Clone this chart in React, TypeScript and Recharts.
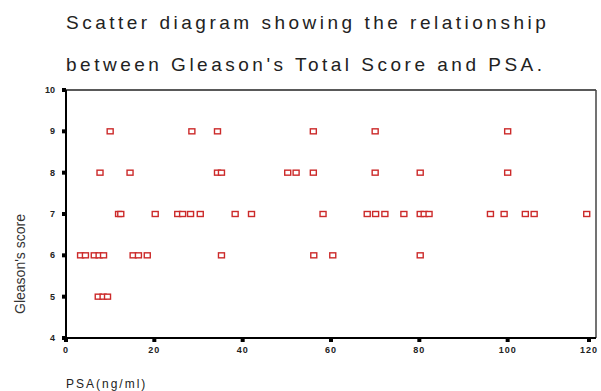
import React from "react";
import { ScatterChart, Scatter, XAxis, YAxis, ReferenceLine } from "recharts";

// PSA values (ng/ml), grouped by Gleason score
const psaScore9 = [10, 28.5, 34.3, 56, 70, 100];
const psaScore8 = [7.7, 14.5, 34.3, 35.2, 50.2, 52.1, 56, 70, 80.2, 100];
const psaScore7 = [
  11.9, 12.4, 20.2, 25.3, 26.4, 28.2, 30.4, 38.3, 42, 58.2, 68.2, 70.1, 72.2, 76.5,
  80.2, 81.1, 82.2, 96.1, 99.2, 104, 106, 117.9,
];
const psaScore6 = [3.3, 4.4, 6.4, 7.5, 8.5, 15.2, 16.4, 18.4, 35.2, 56.1, 60.4, 80.2];
const psaScore5 = [7.3, 8.4, 9.4];

const xTicks = [0, 20, 40, 60, 80, 100, 120];
const yTicks = [4, 5, 6, 7, 8, 9, 10];

const groups: [number, number[]][] = [
  [9, psaScore9],
  [8, psaScore8],
  [7, psaScore7],
  [6, psaScore6],
  [5, psaScore5],
];
const points = groups.flatMap(([score, list]) => list.map((psa) => ({ psa, score })));

const RED = "#cc2a2a";
const tickFont = { fontFamily: "Liberation Sans, Arial, sans-serif", fontSize: 9, fontWeight: 700 };

const Marker = ({ cx, cy }: any) => (
  <rect x={cx - 3} y={cy - 2.5} width={6} height={5} fill="#fff" stroke={RED} strokeWidth={1.4} />
);

const YTick = ({ x, y, payload }: any) => (
  <g>
    <rect x={x - 4} y={y - 2} width={4} height={4} fill="#000" />
    <text x={x - 11} y={y + 3} textAnchor="end" fill="#222" style={tickFont}>
      {payload.value}
    </text>
  </g>
);

const XTick = ({ x, y, payload }: any) => (
  <g>
    <rect x={x - 2} y={y} width={4} height={4} fill="#000" />
    <text x={x} y={y + 15} textAnchor="middle" fill="#222" letterSpacing={1} style={tickFont}>
      {payload.value}
    </text>
  </g>
);

const titleStyle: React.CSSProperties = {
  position: "absolute",
  left: 66,
  fontFamily: "Liberation Sans, Arial, sans-serif",
  fontSize: 19,
  letterSpacing: 3.5,
  color: "#222",
  whiteSpace: "nowrap",
  lineHeight: 1,
};

export default function App() {
  return (
    <div style={{ position: "absolute", left: 0, top: 0, width: 601, height: 391, background: "#fff", overflow: "hidden" }}>
      <div style={{ ...titleStyle, top: 13 }}>Scatter diagram showing the relationship</div>
      <div style={{ ...titleStyle, top: 55 }}>between Gleason's Total Score and PSA.</div>
      <ScatterChart width={601} height={391} margin={{ top: 90, right: 5, bottom: 33, left: 36 }}>
        <XAxis
          type="number"
          dataKey="psa"
          domain={[0, 120]}
          ticks={xTicks}
          height={20}
          tickSize={0}
          tickMargin={0}
          tickLine={false}
          tick={<XTick />}
          axisLine={{ stroke: "#000", strokeWidth: 2 }}
          allowDataOverflow
        />
        <YAxis
          type="number"
          dataKey="score"
          domain={[4, 10]}
          ticks={yTicks}
          width={30}
          tickSize={0}
          tickMargin={0}
          tickLine={false}
          tick={<YTick />}
          axisLine={{ stroke: "#000", strokeWidth: 2 }}
        />
        <ReferenceLine y={10} stroke="#222" strokeWidth={1.5} />
        <ReferenceLine x={120} stroke="#444" strokeWidth={1.5} />
        <Scatter data={points} shape={<Marker />} isAnimationActive={false} />
      </ScatterChart>
      <div
        style={{
          position: "absolute",
          left: 20,
          top: 264,
          transform: "translate(-50%, -50%) rotate(-90deg)",
          fontFamily: "Liberation Sans, Arial, sans-serif",
          fontSize: 14,
          color: "#333",
          whiteSpace: "nowrap",
          lineHeight: 1,
        }}
      >
        Gleason's score
      </div>
      <div
        style={{
          position: "absolute",
          left: 66,
          top: 378,
          fontFamily: "Liberation Sans, Arial, sans-serif",
          fontSize: 12,
          letterSpacing: 2,
          color: "#222",
          whiteSpace: "nowrap",
          lineHeight: 1,
        }}
      >
        PSA(ng/ml)
      </div>
    </div>
  );
}
